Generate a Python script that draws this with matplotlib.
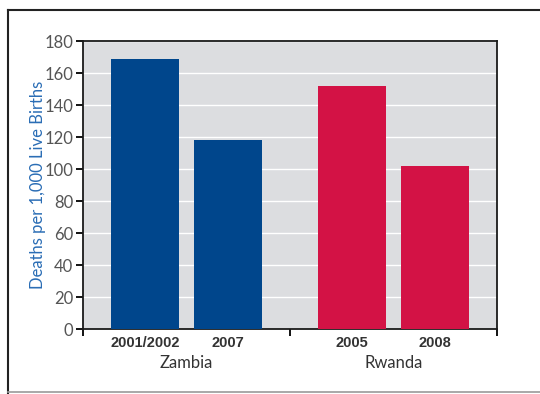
import numpy as np
import matplotlib
matplotlib.use('Agg')
import matplotlib.pyplot as plt
from matplotlib.lines import Line2D

# data
countries = ['Zambia', 'Rwanda']
years = ['2001/2002', '2007', '2005', '2008']
deaths = [169, 118, 152, 102]
bar_colors = ['#00468c', '#00468c', '#d31245', '#d31245']
yticks = [0, 20, 40, 60, 80, 100, 120, 140, 160, 180]

W, H = 540, 394
fig = plt.figure(figsize=(W/100, H/100), dpi=100)
fig.patch.set_facecolor('white')

# axes placed in pixel terms: left 83, right 497, top 41, bottom 329
ax = fig.add_axes([83/W, 1-329/H, (497-83)/W, (329-41)/H])
ax.set_facecolor('#dcdde0')

pos = np.array([0.3, 0.7, 1.3, 1.7])
ax.bar(pos, deaths, width=0.325, color=bar_colors, zorder=3)

ax.set_xlim(0, 2)
ax.set_ylim(0, 180)
ax.set_yticks(yticks)
ax.set_yticklabels([str(v) for v in yticks], fontsize=12, color='#555555',
                   family='Lato')
ax.yaxis.grid(True, color='white', linewidth=1.0, zorder=0)
ax.set_axisbelow(True)

ax.set_xticks([0, 1, 2])
ax.set_xticklabels([])
ax.tick_params(axis='x', direction='out', length=5, width=1.3, color='black')
ax.tick_params(axis='y', direction='out', length=5, width=1.3, color='black', pad=2)
for s in ax.spines.values():
    s.set_color('#1a1a1a')
    s.set_linewidth(1.3)

# year labels under each bar
for x, lab in zip(pos, years):
    ax.text(x, -4.5, lab, ha='center', va='top', fontsize=10.5, fontweight='bold',
            family='Liberation Sans', color='#333333', clip_on=False)

# country labels under each pair
for x, lab in zip([0.5, 1.5], countries):
    ax.text(x, -16.5, lab, ha='center', va='top', fontsize=12, family='Lato',
            color='#333333', clip_on=False)

ax.set_ylabel('Deaths per 1,000 Live Births', fontsize=12, color='#2a6db5',
              family='Lato')
ax.yaxis.set_label_coords(-0.09, 0.5)

# outer frame: dark on top and left, grey at bottom
fig.add_artist(Line2D([8/W, 1], [1-10/H, 1-10/H], color='#222222', lw=1.5,
                      transform=fig.transFigure))
fig.add_artist(Line2D([8/W, 8/W], [1-10/H, 0], color='#222222', lw=1.5,
                      transform=fig.transFigure))
fig.add_artist(Line2D([8/W, 1], [1-392/H, 1-392/H], color='#999999', lw=1.2,
                      transform=fig.transFigure))

fig.savefig('out.png', dpi=100)
